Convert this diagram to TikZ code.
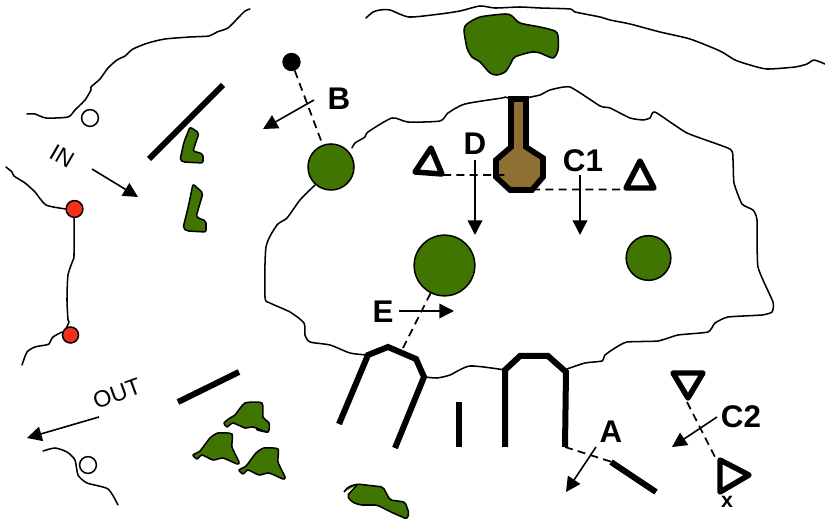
\documentclass[tikz,border=0pt]{standalone}
\usepackage{fontspec}
\setmainfont{Liberation Sans}
\usetikzlibrary{arrows.meta}
\definecolor{leaf}{HTML}{3F7500}
\definecolor{pin}{HTML}{F5301A}
\definecolor{clay}{HTML}{8F7033}
\tikzset{
	shore/.style={draw,line width=1.15pt,line join=round,line cap=round},
	patch/.style={draw,fill=leaf,line width=1.15pt,line join=round},
	wall/.style={draw,line width=4.5pt,line join=miter},
	mark tri/.style={draw,line width=4.1pt,line join=round},
	cut/.style={draw,dashed,dash pattern=on 6pt off 4pt,line width=1.3pt},
	look/.style={line width=1.2pt,-{Triangle[width=11pt,length=11pt]}},
	tag/.style={font=\bfseries\fontsize{23.5}{25}\selectfont,inner sep=0pt},
	flow/.style={font=\fontsize{17.5}{19}\selectfont,inner sep=0pt},
	ring/.style={circle,draw,line width=1.15pt,inner sep=0pt},
}
\begin{document}
\begin{tikzpicture}[x=0.75pt,y=-0.75pt]
		\useasboundingbox (0,0) rectangle (825,523);
		% shores
		\draw[shore] plot[smooth,tension=.4] coordinates {(27,114) (35,114) (46,118) (68,117) (75,110) (85,100) (91,90) (91,87) (100,79) (108,68) (117,60) (125,56) (133,49) (148,43) (165,39) (190,37) (209,36) (217,32) (228,28) (238,18) (245,11) (250,9)};
		\draw[shore] plot[smooth,tension=.4] coordinates {(6,167) (12,172) (14,176) (25,183) (35,192) (46,205) (66,209)};
		\draw[shore] plot[smooth,tension=.4] coordinates {(74,209) (74,255) (73,260) (68,275) (67,300) (68,320) (69,322) (64,333)};
		\draw[shore] plot[smooth,tension=.4] coordinates {(62,332) (53,337) (49,344) (46,345) (35,347) (27,352) (22,365)};
		\draw[shore] plot[smooth,tension=.4] coordinates {(43,451) (55,448) (67,452) (75,460) (78,475) (87,483) (108,489) (118,505)};
		\draw[shore] plot[smooth,tension=.4] coordinates {(366,18) (373,12) (380,10) (390,10) (409,17) (440,14) (460,11) (480,6) (495,8) (520,7) (540,8) (570,9) (575,12) (600,17) (610,20) (630,24) (660,32) (690,39) (720,51) (735,60) (750,65) (767,69) (795,67) (807,64) (814,60) (825,64)};
		% island
		\draw[shore] plot[smooth,tension=.4] coordinates {(352,148) (355,143) (365,137) (368,132) (392,118) (408,122) (440,121) (448,113) (465,104) (502,98) (505,97) (511,99)};
		\draw[shore] plot[smooth,tension=.3] coordinates {(526,98) (540,95) (550,90) (570,87) (600,106) (610,108) (630,118) (643,120) (650,118) (655,112) (687,133) (730,149) (733,160) (734,183) (742,204) (753,210) (757,220) (758,267) (773,302) (772,312) (762,315) (728,317) (715,323) (708,332) (678,335) (658,341) (627,342) (615,348) (605,355) (602,361) (585,363) (567,369)};
		\draw[shore] plot[smooth,tension=.4] coordinates {(505,370) (470,366) (450,375) (437,378) (425,377)};
		\draw[shore] plot[smooth,tension=.4] coordinates {(367,355) (350,353) (330,345) (310,342) (305,335) (304,323) (290,312) (270,303) (265,297) (266,247) (277,225) (287,218) (300,200) (315,185)};
		% green patches
		\path[patch] plot[smooth cycle,tension=.45] coordinates {(464,30) (467,24) (480,17) (505,14) (512,16) (520,23) (540,27) (555,31) (558,36) (558,50) (553,58) (540,53) (532,52) (515,57) (510,65) (505,72) (497,75) (490,73) (480,62) (472,57) (467,48)};
		\path[patch,rounded corners=1.5pt] (190,127) -- (199,133) -- (193,151) -- (203,154) -- (203,163) -- (183,162) -- (180,160) -- (184,142) -- cycle;
		\path[patch,rounded corners=1.5pt] (193,184) -- (203,193) -- (196,217) -- (206,221) -- (206,232) -- (187,231) -- (183,228) -- (188,208) -- cycle;
		\draw[line width=3pt,line cap=round] (258,429) -- (267,431);
		\path[patch] plot[smooth cycle,tension=.35] coordinates {(224,423) (230,418) (235,415) (245,403) (262,403) (263,417) (269,423) (268,432) (253,427) (245,428) (233,423) (227,427)};
		\foreach \dx/\dy in {0/0,46/15}
			\path[patch,shift={(\dx,\dy)}] plot[smooth cycle,tension=.35] coordinates {(193,455) (200,451) (210,438) (218,433) (232,434) (232,447) (239,462) (237,464) (223,458) (213,460) (202,455) (197,459)};
		\path[patch,rounded corners=1.5pt] (344,492) -- (348,487) -- (357,484) -- (383,487) -- (390,500) -- (405,502) -- (409,513) -- (407,519) -- (393,513) -- (377,505) -- (360,505) -- (352,502) -- (347,496) -- (357,485);
		% walls
		\draw[wall] (149,159) -- (223,85);
		\draw[wall] (178,402) -- (239,372);
		\draw[wall] (339,424) -- (368,355) -- (388,347) -- (416,359) -- (424,377) -- (395,448);
		\draw[wall] (459,402) -- (459,447);
		\draw[wall] (505,447) -- (505,370) -- (520,356) -- (548,356) -- (566,372) -- (565,447);
		\draw[wall] (611,462) -- (656,492);
		% bottle
		\draw[line width=4.2pt,fill=clay,line join=miter] (511,99) -- (526,99) -- (526,147) -- (543,158) -- (543,177) -- (532,190) -- (510,190) -- (496,177) -- (496,160) -- (511,147) -- cycle;
		% markers
		\draw[mark tri] (431,148) -- (442,174) -- (415,172) -- cycle;
		\draw[mark tri] (640,161) -- (654,188) -- (626,188) -- cycle;
		\draw[mark tri] (673,373) -- (703,373) -- (688,398) -- cycle;
		\draw[mark tri] (720,460) -- (749,475) -- (720,492) -- cycle;
		% circles
		\node[ring,fill=white,minimum size=12.6pt] (holeA) at (90,118) {};
		\node[ring,fill=white,minimum size=12.6pt] (holeB) at (88,465) {};
		\node[ring,fill=pin,minimum size=12.6pt] (pinA) at (74.5,209) {};
		\node[ring,fill=pin,minimum size=12pt] (pinB) at (70.5,335) {};
		\node[ring,fill=black,minimum size=12.6pt] (dot) at (291.5,62) {};
		\node[ring,fill=leaf,minimum size=34.5pt] (treeB) at (331,167) {};
		\node[ring,fill=leaf,minimum size=45.5pt] (treeD) at (444.5,265.5) {};
		\node[ring,fill=leaf,minimum size=33.5pt] (treeC) at (648.5,258) {};
		% ends of the lines
		\coordinate (triD) at (443,175);
		\coordinate (bottleL) at (505,175);
		\coordinate (bottleR) at (532,189.5);
		\coordinate (triC) at (625,189.5);
		\coordinate (gateE) at (402,350);
		\coordinate (triUp) at (687,402);
		\coordinate (triDn) at (715,457);
		\coordinate (gateA) at (565,447);
		\coordinate (barA) at (612,462);
		\path[cut]
		(dot) -- (treeB)
		(triD) -- (bottleL)
		(bottleR) -- (triC)
		(treeD) -- (gateE)
		(triUp) -- (triDn)
		(gateA) -- (barA);
		% labels
		\node[tag] (lblB) at (339,99) {B};
		\node[tag] (lblD) at (475,144) {D};
		\node[tag] (lblCa) at (583,161) {C1};
		\node[tag] (lblE) at (383,312) {E};
		\node[tag] (lblCb) at (741,417) {C2};
		\node[tag] (lblA) at (611,432) {A};
		\node[inner sep=0pt,font=\bfseries\fontsize{16}{17}\selectfont] (lblx) at (727,502) {x};
		\node[flow,rotate=-30] (lblIn) at (62,156) {IN};
		\node[flow,rotate=20] (lblOut) at (117,394) {OUT};
		% arrows
		\coordinate (inA) at (92,169);
		\coordinate (inB) at (138,197);
		\coordinate (outA) at (99,417);
		\coordinate (outB) at (27,438);
		\coordinate (bA) at (314,100);
		\coordinate (bB) at (263,129);
		\coordinate (dA) at (475,160);
		\coordinate (dB) at (475,235);
		\coordinate (cA) at (580,175);
		\coordinate (cB) at (580,235);
		\coordinate (eA) at (399,311);
		\coordinate (eB) at (454,311);
		\coordinate (aA) at (596,447);
		\coordinate (aB) at (566,492);
		\coordinate (ccA) at (717,417);
		\coordinate (ccB) at (672,447);
		\path[look]
		(inA) edge (inB)
		(outA) edge (outB)
		(bA) edge (bB)
		(dA) edge (dB)
		(cA) edge (cB)
		(eA) edge (eB)
		(aA) edge (aB)
		(ccA) edge (ccB);
\end{tikzpicture}
\end{document}
